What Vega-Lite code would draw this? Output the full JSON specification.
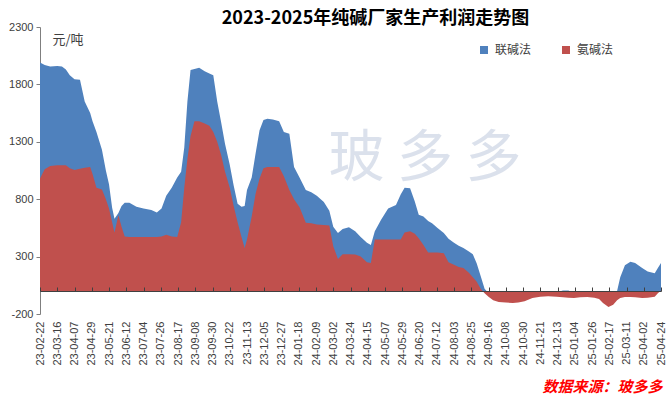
{
  "$schema": "https://vega.github.io/schema/vega-lite/v6.json",
  "width": 621,
  "height": 287,
  "autosize": {"type": "none"},
  "padding": {"left": 40, "top": 27, "right": 11, "bottom": 83},
  "background": "white",
  "config": {"view": {"stroke": null}, "font": "Liberation Sans"},
  "title": {
    "text": "2023-2025年纯碱厂家生产利润走势图",
    "font": "Noto Sans CJK SC",
    "fontSize": 18,
    "fontWeight": "bold",
    "color": "#000000",
    "anchor": "middle",
    "dx": 25,
    "dy": 10,
    "offset": 3
  },
  "data": {
    "values": [
      {"date": "2023-02-22", "lianjian": 1990, "anjian": 980},
      {"date": "2023-02-28", "lianjian": 1970, "anjian": 1060},
      {"date": "2023-03-07", "lianjian": 1955, "anjian": 1090},
      {"date": "2023-03-16", "lianjian": 1960, "anjian": 1095},
      {"date": "2023-03-22", "lianjian": 1955, "anjian": 1095},
      {"date": "2023-03-27", "lianjian": 1930, "anjian": 1095},
      {"date": "2023-04-01", "lianjian": 1880, "anjian": 1070},
      {"date": "2023-04-07", "lianjian": 1845, "anjian": 1055},
      {"date": "2023-04-14", "lianjian": 1840, "anjian": 1065},
      {"date": "2023-04-20", "lianjian": 1650, "anjian": 1075},
      {"date": "2023-04-27", "lianjian": 1550, "anjian": 1080},
      {"date": "2023-04-30", "lianjian": 1480, "anjian": 1020},
      {"date": "2023-05-05", "lianjian": 1385, "anjian": 900},
      {"date": "2023-05-12", "lianjian": 1230, "anjian": 885},
      {"date": "2023-05-17", "lianjian": 1050, "anjian": 800},
      {"date": "2023-05-21", "lianjian": 930, "anjian": 720},
      {"date": "2023-05-25", "lianjian": 725, "anjian": 600},
      {"date": "2023-05-28", "lianjian": 630, "anjian": 510},
      {"date": "2023-06-02", "lianjian": 680, "anjian": 660},
      {"date": "2023-06-06", "lianjian": 740, "anjian": 560},
      {"date": "2023-06-10", "lianjian": 770, "anjian": 475},
      {"date": "2023-06-16", "lianjian": 770, "anjian": 470},
      {"date": "2023-06-25", "lianjian": 735, "anjian": 470},
      {"date": "2023-07-04", "lianjian": 720, "anjian": 470},
      {"date": "2023-07-14", "lianjian": 705, "anjian": 470},
      {"date": "2023-07-21", "lianjian": 685, "anjian": 470},
      {"date": "2023-07-27", "lianjian": 720, "anjian": 475},
      {"date": "2023-08-02", "lianjian": 830, "anjian": 490},
      {"date": "2023-08-09", "lianjian": 900, "anjian": 475},
      {"date": "2023-08-16", "lianjian": 990, "anjian": 470},
      {"date": "2023-08-21", "lianjian": 1040, "anjian": 600},
      {"date": "2023-08-25", "lianjian": 1250, "anjian": 900},
      {"date": "2023-08-29", "lianjian": 1650, "anjian": 1150},
      {"date": "2023-09-02", "lianjian": 1925, "anjian": 1350},
      {"date": "2023-09-07", "lianjian": 1935, "anjian": 1480},
      {"date": "2023-09-13", "lianjian": 1945, "anjian": 1480},
      {"date": "2023-09-20", "lianjian": 1915, "anjian": 1460},
      {"date": "2023-09-26", "lianjian": 1895, "anjian": 1440},
      {"date": "2023-10-01", "lianjian": 1880, "anjian": 1385},
      {"date": "2023-10-06", "lianjian": 1650, "anjian": 1300},
      {"date": "2023-10-11", "lianjian": 1470, "anjian": 1185},
      {"date": "2023-10-16", "lianjian": 1280, "anjian": 1040},
      {"date": "2023-10-22", "lianjian": 1100, "anjian": 900},
      {"date": "2023-10-27", "lianjian": 920, "anjian": 740},
      {"date": "2023-11-01", "lianjian": 760, "anjian": 600},
      {"date": "2023-11-06", "lianjian": 735, "anjian": 470},
      {"date": "2023-11-10", "lianjian": 740, "anjian": 375},
      {"date": "2023-11-13", "lianjian": 880, "anjian": 450},
      {"date": "2023-11-19", "lianjian": 990, "anjian": 650},
      {"date": "2023-11-24", "lianjian": 1200, "anjian": 850},
      {"date": "2023-11-29", "lianjian": 1400, "anjian": 980},
      {"date": "2023-12-04", "lianjian": 1490, "anjian": 1070},
      {"date": "2023-12-09", "lianjian": 1500, "anjian": 1080},
      {"date": "2023-12-16", "lianjian": 1495, "anjian": 1080},
      {"date": "2023-12-24", "lianjian": 1480, "anjian": 1080},
      {"date": "2023-12-30", "lianjian": 1385, "anjian": 1000},
      {"date": "2024-01-06", "lianjian": 1370, "anjian": 880},
      {"date": "2024-01-12", "lianjian": 1080, "anjian": 800},
      {"date": "2024-01-19", "lianjian": 990, "anjian": 730},
      {"date": "2024-01-27", "lianjian": 880, "anjian": 595},
      {"date": "2024-02-03", "lianjian": 860, "anjian": 590},
      {"date": "2024-02-10", "lianjian": 830, "anjian": 580},
      {"date": "2024-02-19", "lianjian": 775, "anjian": 575},
      {"date": "2024-02-26", "lianjian": 700, "anjian": 570},
      {"date": "2024-03-02", "lianjian": 560, "anjian": 390},
      {"date": "2024-03-08", "lianjian": 505, "anjian": 280},
      {"date": "2024-03-14", "lianjian": 540, "anjian": 320},
      {"date": "2024-03-22", "lianjian": 555, "anjian": 320},
      {"date": "2024-03-30", "lianjian": 520, "anjian": 318},
      {"date": "2024-04-06", "lianjian": 470, "anjian": 300},
      {"date": "2024-04-14", "lianjian": 420, "anjian": 250},
      {"date": "2024-04-19", "lianjian": 400, "anjian": 245},
      {"date": "2024-04-24", "lianjian": 520, "anjian": 450},
      {"date": "2024-05-02", "lianjian": 620, "anjian": 450},
      {"date": "2024-05-11", "lianjian": 720, "anjian": 450},
      {"date": "2024-05-21", "lianjian": 750, "anjian": 450},
      {"date": "2024-05-27", "lianjian": 840, "anjian": 450},
      {"date": "2024-06-01", "lianjian": 900, "anjian": 510},
      {"date": "2024-06-08", "lianjian": 895, "anjian": 520},
      {"date": "2024-06-14", "lianjian": 780, "anjian": 500},
      {"date": "2024-06-19", "lianjian": 665, "anjian": 460},
      {"date": "2024-06-25", "lianjian": 650, "anjian": 400},
      {"date": "2024-07-01", "lianjian": 610, "anjian": 335},
      {"date": "2024-07-06", "lianjian": 590, "anjian": 335},
      {"date": "2024-07-13", "lianjian": 550, "anjian": 335},
      {"date": "2024-07-21", "lianjian": 505, "anjian": 330},
      {"date": "2024-07-27", "lianjian": 455, "anjian": 250},
      {"date": "2024-08-03", "lianjian": 420, "anjian": 230},
      {"date": "2024-08-09", "lianjian": 395, "anjian": 210},
      {"date": "2024-08-15", "lianjian": 375, "anjian": 200},
      {"date": "2024-08-22", "lianjian": 345, "anjian": 160},
      {"date": "2024-08-27", "lianjian": 320, "anjian": 120},
      {"date": "2024-09-01", "lianjian": 240, "anjian": 80},
      {"date": "2024-09-06", "lianjian": 130, "anjian": 20},
      {"date": "2024-09-11", "lianjian": 20, "anjian": -20},
      {"date": "2024-09-16", "lianjian": -20, "anjian": -50},
      {"date": "2024-09-22", "lianjian": -40, "anjian": -80},
      {"date": "2024-09-29", "lianjian": -50, "anjian": -96},
      {"date": "2024-10-08", "lianjian": -50, "anjian": -100},
      {"date": "2024-10-17", "lianjian": -60, "anjian": -105},
      {"date": "2024-10-24", "lianjian": -60, "anjian": -100},
      {"date": "2024-11-01", "lianjian": -50, "anjian": -90},
      {"date": "2024-11-11", "lianjian": -30, "anjian": -60},
      {"date": "2024-11-21", "lianjian": -20, "anjian": -50},
      {"date": "2024-12-01", "lianjian": -20, "anjian": -45},
      {"date": "2024-12-12", "lianjian": -10, "anjian": -50},
      {"date": "2024-12-20", "lianjian": 5, "anjian": -55},
      {"date": "2024-12-27", "lianjian": 5, "anjian": -58},
      {"date": "2025-01-03", "lianjian": -20, "anjian": -60},
      {"date": "2025-01-11", "lianjian": -20, "anjian": -55},
      {"date": "2025-01-20", "lianjian": -20, "anjian": -52},
      {"date": "2025-01-29", "lianjian": -20, "anjian": -58},
      {"date": "2025-02-04", "lianjian": -30, "anjian": -70},
      {"date": "2025-02-09", "lianjian": -40, "anjian": -105},
      {"date": "2025-02-16", "lianjian": -60, "anjian": -138},
      {"date": "2025-02-22", "lianjian": -40, "anjian": -120},
      {"date": "2025-02-27", "lianjian": 0, "anjian": -80},
      {"date": "2025-03-03", "lianjian": 120, "anjian": -60},
      {"date": "2025-03-09", "lianjian": 225, "anjian": -52},
      {"date": "2025-03-16", "lianjian": 255, "anjian": -52},
      {"date": "2025-03-22", "lianjian": 245, "anjian": -55},
      {"date": "2025-03-31", "lianjian": 200, "anjian": -60},
      {"date": "2025-04-07", "lianjian": 170, "anjian": -58},
      {"date": "2025-04-16", "lianjian": 155, "anjian": -50},
      {"date": "2025-04-20", "lianjian": 200, "anjian": -20},
      {"date": "2025-04-24", "lianjian": 245, "anjian": 5}
    ]
  },
  "resolve": {"axis": {"x": "independent"}},
  "layer": [
    {
      "mark": {"type": "area", "interpolate": "linear"},
      "encoding": {
        "x": {
          "field": "date",
          "type": "temporal",
          "scale": {"type": "utc", "domain": ["2023-02-22", "2025-04-24"], "nice": false},
          "axis": {
            "orient": "bottom",
            "labelExpr": "utcFormat(datum.value, '%y-%m-%d')",
            "values": ["2023-02-22","2023-03-16","2023-04-07","2023-04-29","2023-05-21","2023-06-12","2023-07-04","2023-07-26","2023-08-17","2023-09-08","2023-09-30","2023-10-22","2023-11-13","2023-12-05","2023-12-27","2024-01-18","2024-02-09","2024-03-02","2024-03-24","2024-04-15","2024-05-07","2024-05-29","2024-06-20","2024-07-12","2024-08-03","2024-08-25","2024-09-16","2024-10-08","2024-10-30","2024-11-21","2024-12-13","2025-01-04","2025-01-26","2025-02-17","2025-03-11","2025-04-02","2025-04-24"],
            "labelAngle": -90,
            "labelAlign": "right",
            "labelBaseline": "middle",
            "labelFont": "Liberation Sans",
            "labelFontSize": 11,
            "labelColor": "#404040",
            "labelPadding": 7,
            "labelOverlap": false,
            "labelBound": false,
            "labelFlush": false,
            "domain": false,
            "ticks": false,
            "grid": false,
            "title": "数据来源：玻多多",
            "titleFont": "Noto Sans CJK SC",
            "titleFontSize": 15,
            "titleFontWeight": "bold",
            "titleFontStyle": "italic",
            "titleColor": "#ff0000",
            "titleAlign": "right",
            "titleBaseline": "middle",
            "titleAnchor": "end",
            "titleX": 622,
            "titleY": 72
          }
        },
        "y": {
          "field": "lianjian",
          "type": "quantitative",
          "scale": {"domain": [-200, 2300], "nice": false, "zero": false},
          "axis": {
            "values": [-200, 300, 800, 1300, 1800, 2300],
            "labelExpr": "'' + datum.value",
            "grid": false,
            "domainColor": "#7f7f7f",
            "tickColor": "#7f7f7f",
            "tickSize": 4,
            "labelPadding": 3,
            "labelFont": "Liberation Sans",
            "labelFontSize": 11,
            "labelColor": "#404040",
            "title": "元/吨",
            "titleFont": "Noto Sans CJK SC",
            "titleFontSize": 13,
            "titleFontWeight": "normal",
            "titleColor": "#404040",
            "titleAngle": 0,
            "titleAlign": "left",
            "titleBaseline": "middle",
            "titleX": 12,
            "titleY": 12
          }
        },
        "color": {
          "datum": "联碱法",
          "type": "nominal",
          "scale": {"domain": ["联碱法", "氨碱法"], "range": ["#4F81BD", "#C0504D"]},
          "legend": {
            "title": null,
            "orient": "none",
            "legendX": 438,
            "legendY": 17,
            "direction": "horizontal",
            "symbolType": "square",
            "symbolSize": 64,
            "symbolStrokeWidth": 0,
            "labelFont": "Noto Sans CJK SC",
            "labelFontSize": 12,
            "labelColor": "#404040",
            "columnPadding": 28,
            "labelOffset": 5
          }
        }
      }
    },
    {
      "mark": {"type": "area", "interpolate": "linear"},
      "encoding": {
        "x": {
          "field": "date",
          "type": "temporal",
          "axis": {
            "orient": "bottom",
            "offset": -23,
            "zindex": 1,
            "values": ["2023-02-22","2023-03-16","2023-04-07","2023-04-29","2023-05-21","2023-06-12","2023-07-04","2023-07-26","2023-08-17","2023-09-08","2023-09-30","2023-10-22","2023-11-13","2023-12-05","2023-12-27","2024-01-18","2024-02-09","2024-03-02","2024-03-24","2024-04-15","2024-05-07","2024-05-29","2024-06-20","2024-07-12","2024-08-03","2024-08-25","2024-09-16","2024-10-08","2024-10-30","2024-11-21","2024-12-13","2025-01-04","2025-01-26","2025-02-17","2025-03-11","2025-04-02","2025-04-24"],
            "labels": false,
            "domain": true,
            "domainColor": "#404040",
            "ticks": true,
            "tickColor": "#404040",
            "tickSize": -4,
            "grid": false,
            "title": null
          }
        },
        "y": {"field": "anjian", "type": "quantitative"},
        "color": {"datum": "氨碱法", "type": "nominal"}
      }
    },
    {
      "data": {"values": [{"date": "2024-06-27", "v": 1150, "label": "玻 多 多"}]},
      "mark": {"type": "text", "font": "Noto Sans CJK SC", "fontSize": 56, "color": "#b8c4da", "opacity": 0.5, "align": "center", "baseline": "middle"},
      "encoding": {
        "x": {"field": "date", "type": "temporal", "axis": null},
        "y": {"field": "v", "type": "quantitative"},
        "text": {"field": "label"}
      }
    }
  ]
}
